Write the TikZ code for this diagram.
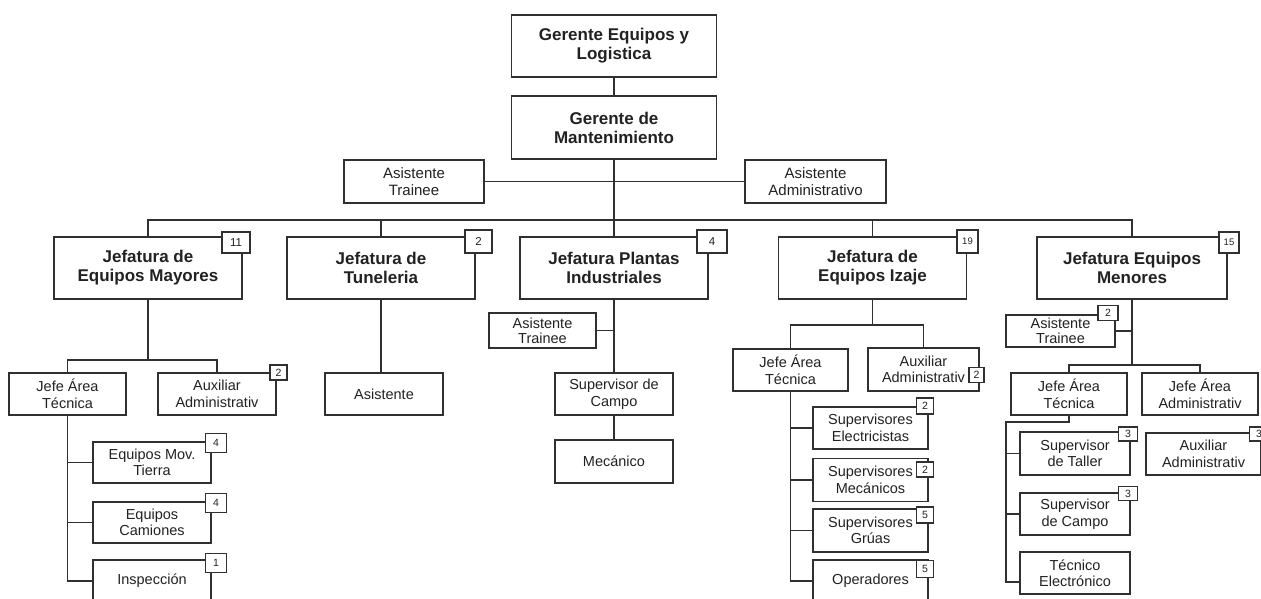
\documentclass[tikz,border=0pt]{standalone}
\usepackage{fontspec}
\setmainfont{Liberation Sans}
\usetikzlibrary{calc}
\definecolor{ln}{HTML}{303030}
\definecolor{tx}{HTML}{222222}
\begin{document}
\begin{tikzpicture}[x=1pt,y=-1pt,
  wh/.style 2 args={minimum width=#1pt, minimum height=#2pt},
  box/.style={draw=ln, line width=1.4pt, fill=white, inner sep=0pt, align=center, text=tx},
  big/.style={box, font=\bfseries\fontsize{17}{19}\selectfont},
  mid/.style={box, font=\fontsize{15}{17}\selectfont},
  small/.style={box, font=\fontsize{14.5}{16.5}\selectfont},
  tight/.style={box, font=\fontsize{14.5}{15}\selectfont},
  bbadge/.style={draw=ln, line width=1.3pt, fill=white, inner sep=0pt, text=tx, font=\fontsize{11.5}{11.5}\selectfont},
  sbadge/.style={draw=ln, line width=1.2pt, fill=white, inner sep=0pt, text=tx, font=\fontsize{10.5}{10.5}\selectfont},
  link/.style={draw=ln, line width=1.4pt},
]
\useasboundingbox[fill=white] (0,0) rectangle (1261,599);

% top
\node[big, wh={205}{62}] (G1) at (614,46) {Gerente Equipos y\\Logistica};
\node[big, wh={205}{63}] (G2) at (614,127.5) {Gerente de\\Mantenimiento};
\node[mid, wh={140}{43}] (AT) at (414,181.5) {Asistente\\Trainee};
\node[mid, wh={141}{43}] (AA) at (815.5,181.5) {Asistente\\Administrativo};

% level 2
\node[big, wh={188}{62}] (JEM) at (148,268) {Jefatura de\\Equipos Mayores};
\node[big, wh={188}{62}] (JT) at (381,268) {Jefatura de\\Tuneleria};
\node[big, wh={188}{62}] (JPI) at (614,268) {Jefatura Plantas\\Industriales};
\node[big, wh={188}{62}] (JEI) at (872.5,268) {Jefatura de\\Equipos Izaje};
\node[big, wh={190}{62}] (JEMn) at (1132,268) {Jefatura Equipos\\Menores};

% Equipos Mayores branch
\node[small, wh={117}{42}] (JAT1) at (67.5,394) {Jefe Área\\Técnica};
\node[small, wh={118}{42}] (AX1) at (217,394) {Auxiliar\\Administrativ};
\node[small, wh={118}{41}] (EMT) at (152,462.5) {Equipos Mov.\\Tierra};
\node[small, wh={118}{41}] (EC) at (152,522.5) {Equipos\\Camiones};
\node[small, wh={118}{42}] (INS) at (152,581) {Inspección};

% Tuneleria branch
\node[small, wh={118}{42}] (ASI) at (384,394) {Asistente};

% Plantas Industriales branch
\node[tight, wh={107}{35}] (ATP) at (542.5,330.5) {Asistente\\Trainee};
\node[small, wh={118}{42}] (SC) at (614,394) {Supervisor de\\Campo};
\node[small, wh={118}{43}] (MEC) at (614,461.5) {Mecánico};

% Izaje branch
\node[small, wh={115}{42}] (JAT2) at (790.5,370) {Jefe Área\\Técnica};
\node[small, wh={111}{43}] (AX2) at (923.5,369.5) {Auxiliar\\Administrativ};
\node[small, wh={115}{42}] (SE) at (870.5,428) {Supervisores\\Electricistas};
\node[small, wh={115}{43}] (SM) at (870.5,480) {Supervisores\\Mecánicos};
\node[small, wh={115}{43}] (SG) at (870.5,530.5) {Supervisores\\Grúas};
\node[small, wh={115}{42}] (OP) at (870.5,581) {Operadores};

% Menores branch
\node[tight, wh={109}{32}] (ATM) at (1060.5,331) {Asistente\\Trainee};
\node[small, wh={116}{42}] (JAT3) at (1069,394) {Jefe Área\\Técnica};
\node[small, wh={116}{42}] (JAA) at (1200,394) {Jefe Área\\Administrativ};
\node[small, wh={110}{43}] (ST) at (1075,453.5) {Supervisor\\de Taller};
\node[small, wh={110}{42}] (SCm) at (1075,514) {Supervisor\\de Campo};
\node[small, wh={110}{42}] (TE) at (1075,573) {Técnico\\Electrónico};
\node[small, wh={115}{42}] (AXM) at (1203.5,454) {Auxiliar\\Administrativ};

% coordinates
\coordinate (bus) at (614,220);
\coordinate (b1) at (148,360);
\coordinate (b4) at (872.5,325);
\coordinate (b5) at (1132,365);
\coordinate (k) at (1006,422);
\coordinate (te) at (1006,582);

% connectors
\draw[link] (G1.south) -- (G2.north);
\draw[link] (AT.east) -- (AA.west);
\draw[link] (G2.south) -- (JPI.north);
\draw[link] (JEM.north) |- (bus) -| (JEMn.north);
\draw[link] (JT.north) -- (JT.north |- bus);
\draw[link] (JEI.north) -- (JEI.north |- bus);

\draw[link] (JEM.south) -- (b1);
\draw[link] (JAT1.north) |- (b1) -| (AX1.north);
\draw[link] (JAT1.south) -- (JAT1.south |- INS.west) -- (INS.west);
\draw[link] (JAT1.south |- EMT.west) -- (EMT.west);
\draw[link] (JAT1.south |- EC.west) -- (EC.west);

\draw[link] (JT.south) -- (JT.south |- ASI.north);

\draw[link] (JPI.south) -- (SC.north);
\draw[link] (SC.south) -- (MEC.north);
\draw[link] (ATP.east) -- (ATP.east -| JPI.south);

\draw[link] (JEI.south) -- (b4);
\draw[link] (JAT2.north) |- (b4) -| (AX2.north);
\draw[link] (JAT2.south) -- (JAT2.south |- OP.west) -- (OP.west);
\draw[link] (JAT2.south |- SE.west) -- (SE.west);
\draw[link] (JAT2.south |- SM.west) -- (SM.west);
\draw[link] (JAT2.south |- SG.west) -- (SG.west);

\draw[link, line width=1.8pt] (JEMn.south) -- (b5);
\draw[link] (ATM.east) -- (ATM.east -| b5);
\draw[link] (JAT3.north) |- (b5) -| (JAA.north);
\draw[link, line width=1.9pt] (JAT3.south) |- (k) -- (te) -- (te -| TE.west);
\draw[link] (k |- ST.west) -- (ST.west);
\draw[link] (k |- SCm.west) -- (SCm.west);

% badges level 2
\node[bbadge, wh={28}{21}] (n11) at (236,242.5) {11};
\node[bbadge, wh={27}{23}] (n2t) at (478.5,241.5) {2};
\node[bbadge, wh={30}{23}] (n4p) at (712,241.5) {4};
\node[bbadge, wh={21}{23}, font=\fontsize{9.5}{9.5}\selectfont] (n19) at (967.5,241.5) {19};
\node[bbadge, wh={20}{21}, font=\fontsize{9.5}{9.5}\selectfont] (n15) at (1229,242.5) {15};

% badges lower
\node[sbadge, wh={17}{15}] (nax1) at (278.5,372.5) {2};
\node[sbadge, wh={21}{19}] (nemt) at (216,443) {4};
\node[sbadge, wh={21}{19}] (nec) at (216,503) {4};
\node[sbadge, wh={21}{19}] (nins) at (216,563) {1};
\node[sbadge, wh={15}{15}] (nax2) at (976.5,375) {2};
\node[sbadge, wh={17}{16}] (nse) at (925,406) {2};
\node[sbadge, wh={17}{15}] (nsm) at (925,469.5) {2};
\node[sbadge, wh={17}{16}] (nsg) at (925,515) {5};
\node[sbadge, wh={17}{17}] (nop) at (925,569) {5};
\node[sbadge, wh={20}{15}] (natm) at (1108,313) {2};
\node[sbadge, wh={19}{14}] (nst) at (1128,434) {3};
\node[sbadge, wh={19}{14}] (nscm) at (1128,493.5) {3};
\node[sbadge, wh={19}{14}] (naxm) at (1259,434) {3};
\end{tikzpicture}
\end{document}
